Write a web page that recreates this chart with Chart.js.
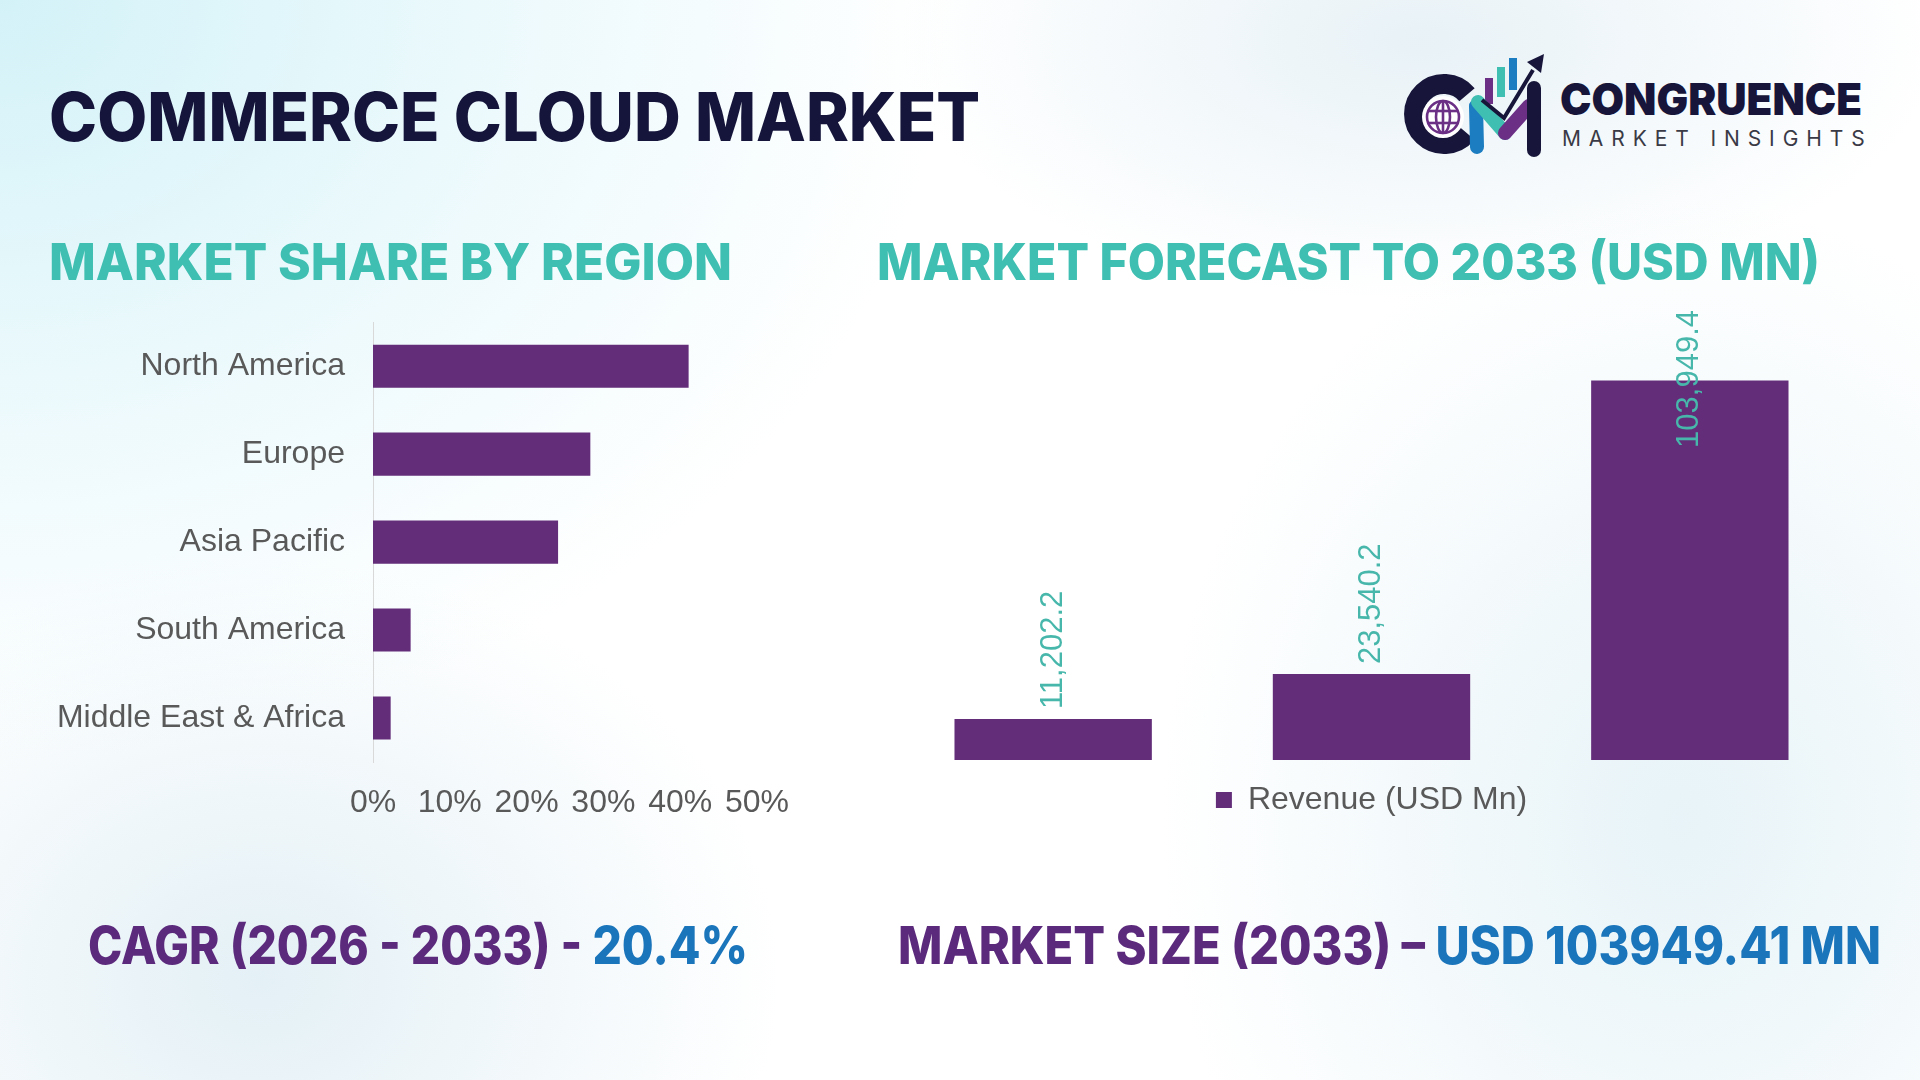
<!DOCTYPE html>
<html>
<head>
<meta charset="utf-8">
<script src="https://cdn.jsdelivr.net/npm/chart.js@4.4.1/dist/chart.umd.min.js"></script>
<style>
  html, body { margin: 0; padding: 0; }
  body {
    width: 1920px; height: 1080px; position: relative; overflow: hidden;
    background:
      radial-gradient(ellipse 950px 760px at 0px 0px, #d3f2f8 0%, rgba(228,247,251,0.65) 55%, rgba(255,255,255,0) 100%),
      radial-gradient(ellipse 520px 420px at 260px 980px, rgba(205,228,238,0.55), rgba(255,255,255,0)),
      radial-gradient(ellipse 520px 620px at 1680px 820px, rgba(212,234,242,0.55), rgba(255,255,255,0)),
      radial-gradient(ellipse 520px 260px at 1420px 40px, rgba(222,236,243,0.7), rgba(255,255,255,0)),
      #ffffff;
    font-family: Inter, "Open Sans", sans-serif;
  }
  .txt { position: absolute; white-space: nowrap; line-height: 1; transform-origin: 0 0; }
  #title { left: 49px; top: 83px; font-size: 67px; font-weight: 800; color: #15143a; }
  .sub { top: 236px; font-size: 51px; font-weight: 800; color: #3fbfb1; }
  .kpi { top: 920px; font-size: 52px; font-weight: 800; color: #5c2a7d; }
  .kpi .hl { color: #1b75bb; }
  #brand { left: 1560px; top: 77px; font-size: 44px; font-weight: 900; color: #17163a; }
  #tag { left: 1562px; top: 128px; font-size: 21px; font-weight: 400; color: #3a3a46; letter-spacing: 7.9px; }
  canvas { position: absolute; }
  #logo { position: absolute; left: 1400px; top: 50px; }
</style>
</head>
<body>

<div id="title" class="txt" data-w="931">COMMERCE CLOUD MARKET</div>
<div class="txt sub" style="left:49px" data-w="683">MARKET SHARE BY REGION</div>
<div class="txt sub" style="left:877px" data-w="943">MARKET FORECAST TO 2033 (USD MN)</div>
<div class="txt kpi" style="left:88px" data-w="660">CAGR (2026 - 2033) - <span class="hl">20.4%</span></div>
<div class="txt kpi" style="left:898px" data-w="983">MARKET SIZE (2033) – <span class="hl">USD 103949.41 MN</span></div>

<svg id="logo" width="150" height="110" viewBox="1400 50 150 110">
  <path d="M1467 133.3 A30 30 0 1 1 1467 94.7" fill="none" stroke="#17163a" stroke-width="20"/>
  <circle cx="1443" cy="117" r="21" fill="#ffffff"/>
  <g fill="none" stroke="#6b2f86" stroke-width="2.6">
    <circle cx="1443" cy="117" r="16"/>
    <ellipse cx="1443" cy="117" rx="7" ry="16"/>
    <line x1="1443" y1="101" x2="1443" y2="133"/>
    <line x1="1428" y1="111" x2="1458" y2="111"/>
    <line x1="1428" y1="123" x2="1458" y2="123"/>
  </g>
  <rect x="1485" y="78" width="8" height="26" fill="#6b2f86"/>
  <rect x="1497" y="67" width="8" height="30" fill="#3fbfb1"/>
  <rect x="1509" y="58" width="8" height="32" fill="#1c7dc0"/>
  <line x1="1477" y1="147" x2="1476" y2="106" stroke="#1c7dc0" stroke-width="14" stroke-linecap="round"/>
  <line x1="1478" y1="102" x2="1505" y2="133" stroke="#3fbfb1" stroke-width="14" stroke-linecap="round"/>
  <line x1="1505" y1="133" x2="1529" y2="106" stroke="#6b2f86" stroke-width="14" stroke-linecap="round"/>
  <line x1="1534" y1="88" x2="1534" y2="150" stroke="#17163a" stroke-width="14" stroke-linecap="round"/>
  <polyline points="1482,100 1504,118 1533,70" fill="none" stroke="#17163a" stroke-width="4"/>
  <polygon points="1544,54 1527,62 1541,73" fill="#17163a"/>
</svg>
<div id="brand" class="txt" data-w="302">CONGRUENCE</div>
<div id="tag" class="txt">MARKET INSIGHTS</div>

<canvas id="shareChart" width="753" height="557" style="left:58px; top:275px;"></canvas>
<canvas id="forecastChart" width="990" height="526" style="left:880px; top:300px;"></canvas>

<script>
// market share by region (%)
const regions = ['North America', 'Europe', 'Asia Pacific', 'South America', 'Middle East & Africa'];
const shares = [41.1, 28.3, 24.1, 4.9, 2.3];
const shareTicks = [0, 10, 20, 30, 40, 50];

// revenue forecast (USD Mn)
const years = ['2021', '2025', '2033'];
const revenue = [11202.2, 23540.2, 103949.4];
const seriesName = 'Revenue (USD Mn)';

const PURPLE = '#632d79';
const GREY = '#595959';
const TEAL = '#48b7ab';

Chart.defaults.font.family = '"Liberation Sans", Arial, sans-serif';
Chart.defaults.animation = false;

// stretch headline texts to the width they have in the design
document.querySelectorAll('[data-w]').forEach(el => {
    const w = el.getBoundingClientRect().width;
    el.style.transform = 'scaleX(' + (parseFloat(el.dataset.w) / w) + ')';
});

// horizontal bars: market share
// note: tick padding also pads the chart area edges, canvas box is sized for that
new Chart(document.getElementById('shareChart'), {
    type: 'bar',
    data: {
        labels: regions,
        datasets: [{
            label: 'Share',
            data: shares,
            backgroundColor: PURPLE,
            categoryPercentage: 1,
            barPercentage: 0.49
        }]
    },
    options: {
        indexAxis: 'y',
        responsive: false,
        layout: { padding: 0 },
        plugins: { legend: { display: false }, tooltip: { enabled: false } },
        scales: {
            x: {
                min: shareTicks[0],
                max: shareTicks[shareTicks.length - 1],
                afterBuildTicks: (scale) => { scale.ticks = shareTicks.map(v => ({ value: v })); },
                ticks: {
                    color: GREY,
                    font: { size: 32 },
                    padding: 22,
                    maxRotation: 0,
                    autoSkip: false,
                    callback: (v) => v + '%'
                },
                grid: { display: false, drawTicks: false },
                border: { display: false },
                afterFit: (scale) => { scale.height = 70; }
            },
            y: {
                ticks: { color: GREY, font: { size: 32 }, padding: 28 },
                grid: { color: 'transparent', drawTicks: false },
                border: { display: true, color: '#d9d9d9', width: 1 },
                afterFit: (scale) => { scale.width = 315; }
            }
        }
    }
});

// rotated value labels above the columns
const valueLabels = {
    id: 'valueLabels',
    afterDatasetsDraw(chart) {
        const ctx = chart.ctx;
        const meta = chart.getDatasetMeta(0);
        const minTop = chart.chartArea.top - 12;
        ctx.save();
        ctx.font = '31px "Liberation Sans", Arial, sans-serif';
        ctx.fillStyle = TEAL;
        ctx.textAlign = 'left';
        ctx.textBaseline = 'middle';
        meta.data.forEach((bar, i) => {
            const txt = revenue[i].toLocaleString('en-US', { minimumFractionDigits: 1, maximumFractionDigits: 1 });
            const w = ctx.measureText(txt).width;
            let start = bar.y - 10;
            if (start - w < minTop) start = minTop + w;
            ctx.save();
            ctx.translate(bar.x, start);
            ctx.rotate(-Math.PI / 2);
            ctx.fillText(txt, 0, 0);
            ctx.restore();
        });
        ctx.restore();
    }
};

// columns: revenue forecast
new Chart(document.getElementById('forecastChart'), {
    type: 'bar',
    data: {
        labels: years,
        datasets: [{
            label: seriesName,
            data: revenue,
            backgroundColor: PURPLE,
            categoryPercentage: 1,
            barPercentage: 0.62
        }]
    },
    options: {
        responsive: false,
        layout: { padding: { top: 22, right: 21, left: 14, bottom: 0 } },
        plugins: {
            tooltip: { enabled: false },
            legend: {
                position: 'bottom',
                labels: {
                    color: GREY,
                    font: { size: 32 },
                    boxWidth: 16,
                    boxHeight: 16,
                    padding: 24
                }
            }
        },
        scales: {
            x: { display: false },
            y: { display: false, min: 0, max: 120000 }
        }
    },
    plugins: [valueLabels]
});
</script>
</body>
</html>
